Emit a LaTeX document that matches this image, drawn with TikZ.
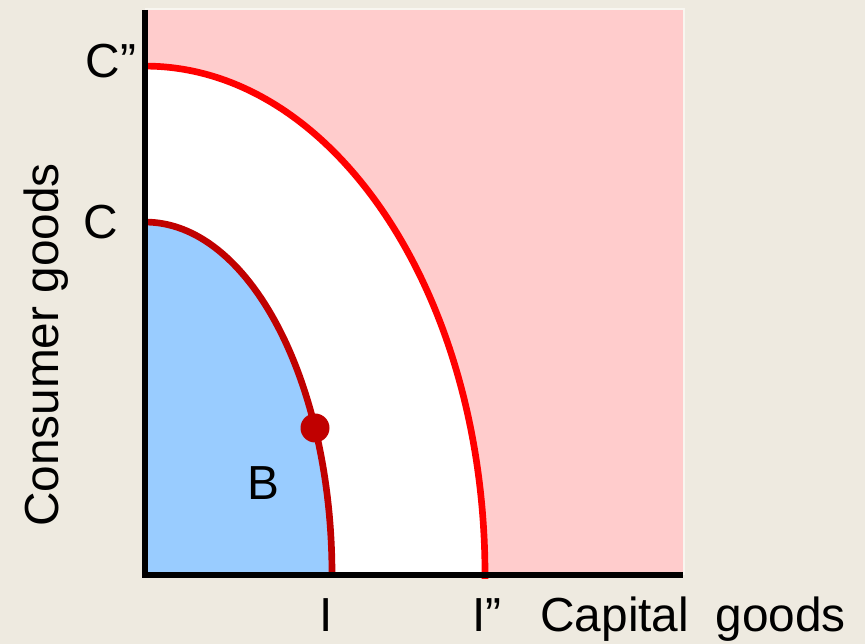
\documentclass[tikz,border=0pt]{standalone}
\usepackage{fontspec}
\setmainfont{Liberation Sans}
\usetikzlibrary{positioning}
\definecolor{bgcream}{HTML}{EEEAE0}
\definecolor{rimcream}{HTML}{F8F6F0}
\definecolor{ppfpink}{HTML}{FFCCCC}
\definecolor{ppfblue}{HTML}{99CCFF}
\definecolor{ppfred}{HTML}{FF0000}
\definecolor{ppfdark}{HTML}{C00000}

\begin{document}
\begin{tikzpicture}[x=0.02cm, y=0.02cm,
  lbl/.style={text=black, inner sep=0pt, font=\fontsize{27.2}{31}\selectfont},
  axisline/.style={black, line width=3.4pt},
  frontier/.style={line width=3.8pt}]

% Background
\fill[bgcream] (0,0) rectangle (865,644);
\useasboundingbox (0,0) rectangle (865,644);

% Key points
\coordinate (origin) at (145,69);
\coordinate (ymax) at (145,634);
\coordinate (xmax) at (683,69);
\coordinate (outerI) at (485,69);
\coordinate (innerI) at (332,69);

% Region beyond the outer frontier
\fill[ppfpink] (origin) rectangle (683,634);
\draw[rimcream, line width=0.8pt] (145,635) -- (684,635) -- (684,69);

% Area between the frontiers
\fill[white] (origin) -- (outerI) arc[start angle=0, end angle=90, x radius=6.8cm, y radius=10.18cm] -- cycle;

% Area inside the inner frontier
\fill[ppfblue] (origin) -- (innerI) arc[start angle=0, end angle=90, x radius=3.74cm, y radius=7.06cm] -- cycle;

% Frontiers
\draw[frontier, ppfred] (485,65) -- (outerI) arc[start angle=0, end angle=90, x radius=6.8cm, y radius=10.18cm] coordinate (outerC);
\draw[frontier, ppfdark] (innerI) arc[start angle=0, end angle=90, x radius=3.74cm, y radius=7.06cm] coordinate (innerC);

% Axes
\draw[axisline] (ymax) -- (origin) -- (xmax);

% Point B
\fill[ppfdark] (315,216) circle[radius=0.29cm];

% Labels
\node[lbl] (lblCC) at (111,583) {C”};
\node[lbl] (lblC) at (101,422) {C};
\node[lbl] (lblB) at (263,161) {B};
\node[lbl, anchor=base] (lblI) at (326,12) {I};
\node[lbl, anchor=base] (lblII) at (487,12) {I”};
\node[lbl, anchor=base west] (lblX) at (540,12) {Capital\ \ goods};
\node[lbl, anchor=base, rotate=90] (lblY) at (58,299) {Consumer goods};

\end{tikzpicture}
\end{document}
